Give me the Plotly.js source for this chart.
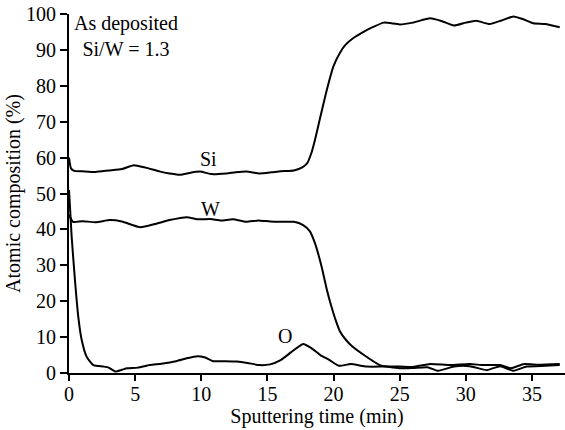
<!DOCTYPE html>
<html>
<head>
<meta charset="utf-8">
<script src="https://cdn.plot.ly/plotly-3.0.1.min.js"></script>
<style>html,body{margin:0;padding:0;background:#fff;}#chart{width:565px;height:430px;}</style>
</head>
<body>
<div id="chart"></div>
<script>
const siTime = [0, 0.15, 0.4, 1, 2, 3, 4, 4.9, 5.8, 6.9, 7.6, 8.4, 9.2, 9.9, 10.8, 11.9, 12.6, 13.4, 14.4, 15.3, 16, 17, 17.6, 18.0, 18.3, 18.6, 19.0, 19.5, 20.0, 20.5, 20.9, 21.5, 22.3, 23, 23.8, 25, 26, 27.3, 28.2, 29.1, 30, 30.8, 31.8, 32.7, 33.6, 34.3, 35.1, 36, 37.1];
const siValues = [60, 57, 56.3, 56.2, 56, 56.4, 56.8, 57.9, 57.2, 56.1, 55.6, 55.2, 55.8, 56.1, 55.4, 55.6, 55.9, 56.1, 55.6, 55.9, 56.2, 56.4, 57.2, 58.4, 61, 65, 71.3, 79, 85.5, 89.3, 91.4, 93.3, 95.1, 96.4, 97.6, 97.1, 97.6, 98.8, 98, 96.8, 97.6, 98.1, 97.2, 98.2, 99.3, 98.6, 97.4, 97.2, 96.3];

const wTime = [0, 0.3, 1, 2, 3.1, 4, 5.4, 6.5, 7.6, 8.9, 9.8, 10.7, 11.5, 12.4, 13.4, 14.3, 15.2, 16, 17, 17.7, 18.2, 18.6, 19.1, 19.5, 19.8, 20.2, 20.5, 20.9, 21.3, 22.3, 23.5, 25, 26, 27.1, 27.9, 29.1, 30.3, 31.6, 32.6, 33.6, 34.6, 36, 37.1];
const wValues = [44, 42.1, 42.3, 42.0, 42.6, 42.2, 40.6, 41.5, 42.6, 43.4, 42.8, 42.9, 42.5, 42.8, 42.1, 42.5, 42.2, 42.1, 42.1, 41.2, 39.5, 36.1, 29.6, 23.1, 19.0, 14.3, 11.5, 9.4, 7.8, 5.0, 2.2, 1.3, 1.4, 1.6, 0.6, 1.8, 1.9, 0.8, 1.9, 0.6, 1.8, 2.0, 2.2];

const oTime = [0, 0.2, 0.45, 0.7, 0.96, 1.34, 1.84, 2.6, 3.0, 3.5, 4.0, 4.4, 5.2, 6.1, 7.0, 8.1, 8.9, 9.7, 10.3, 10.9, 11.8, 12.7, 13.5, 14.4, 15.2, 16.0, 16.8, 17.7, 18.3, 19.0, 19.7, 20.4, 21.3, 22.5, 23.8, 25, 26, 27.3, 28.8, 30.3, 31.3, 32.6, 33.4, 34.4, 35.5, 37.1];
const oValues = [51, 38, 25.9, 15.7, 9.2, 4.5, 2.2, 1.8, 1.5, 0.4, 0.9, 1.3, 1.5, 2.2, 2.6, 3.3, 4.1, 4.7, 4.3, 3.3, 3.3, 3.2, 2.8, 2.2, 2.4, 3.6, 5.8, 8.1, 7.0, 5.0, 3.6, 2.0, 2.5, 1.8, 1.8, 1.8, 1.7, 2.5, 2.2, 2.5, 2.2, 2.2, 1.3, 2.5, 2.3, 2.5];

const seriesNames = ["Si", "W", "O"];
const labelPos = [[10.55, 59.6], [10.67, 45.7], [16.33, 10.3]];
const xTicks = [0, 5, 10, 15, 20, 25, 30, 35];
const yTicks = [0, 10, 20, 30, 40, 50, 60, 70, 80, 90, 100];

const FONT = "Liberation Serif";
const lineStyle = {color: "#000", width: 2, shape: "spline", smoothing: 0.5};

const traces = [
  {x: siTime, y: siValues, name: seriesNames[0], mode: "lines", line: lineStyle},
  {x: wTime, y: wValues, name: seriesNames[1], mode: "lines", line: lineStyle},
  {x: oTime, y: oValues, name: seriesNames[2], mode: "lines", line: lineStyle}
];

const annotations = seriesNames.map((n, i) => ({
  x: labelPos[i][0], y: labelPos[i][1], xref: "x", yref: "y",
  text: n, showarrow: false, font: {family: FONT, size: 20, color: "#000"}
}));
annotations.push({
  x: 0.115, y: 1.01, xref: "paper", yref: "paper", xanchor: "center", yanchor: "top",
  text: "As deposited<br>Si/W = 1.3", showarrow: false, align: "center",
  font: {family: FONT, size: 20, color: "#000"}
});

const layout = {
  width: 565, height: 430,
  margin: {l: 69, r: 0, t: 14, b: 57},
  paper_bgcolor: "#fff", plot_bgcolor: "#fff",
  showlegend: false,
  font: {family: FONT, size: 20, color: "#000"},
  xaxis: {
    range: [0, 37.5], tickvals: xTicks, ticktext: xTicks.map(String),
    ticks: "outside", ticklen: 6, tickwidth: 2, tickcolor: "#000",
    ticklabelstandoff: -4,
    showline: true, linecolor: "#000", linewidth: 2,
    showgrid: false, zeroline: false,
    tickfont: {family: FONT, size: 20, color: "#000"},
    title: {text: "Sputtering time (min)", font: {family: FONT, size: 20, color: "#000"}, standoff: 4}
  },
  yaxis: {
    range: [0, 100], tickvals: yTicks, ticktext: yTicks.map(String),
    ticks: "outside", ticklen: 7, tickwidth: 2, tickcolor: "#000",
    showline: true, linecolor: "#000", linewidth: 2,
    showgrid: false, zeroline: false,
    tickfont: {family: FONT, size: 20, color: "#000"},
    title: {text: "Atomic composition (%)", font: {family: FONT, size: 20, color: "#000"}, standoff: 0}
  },
  annotations: annotations
};

Plotly.newPlot("chart", traces, layout, {displayModeBar: false, staticPlot: true});
</script>
</body>
</html>
